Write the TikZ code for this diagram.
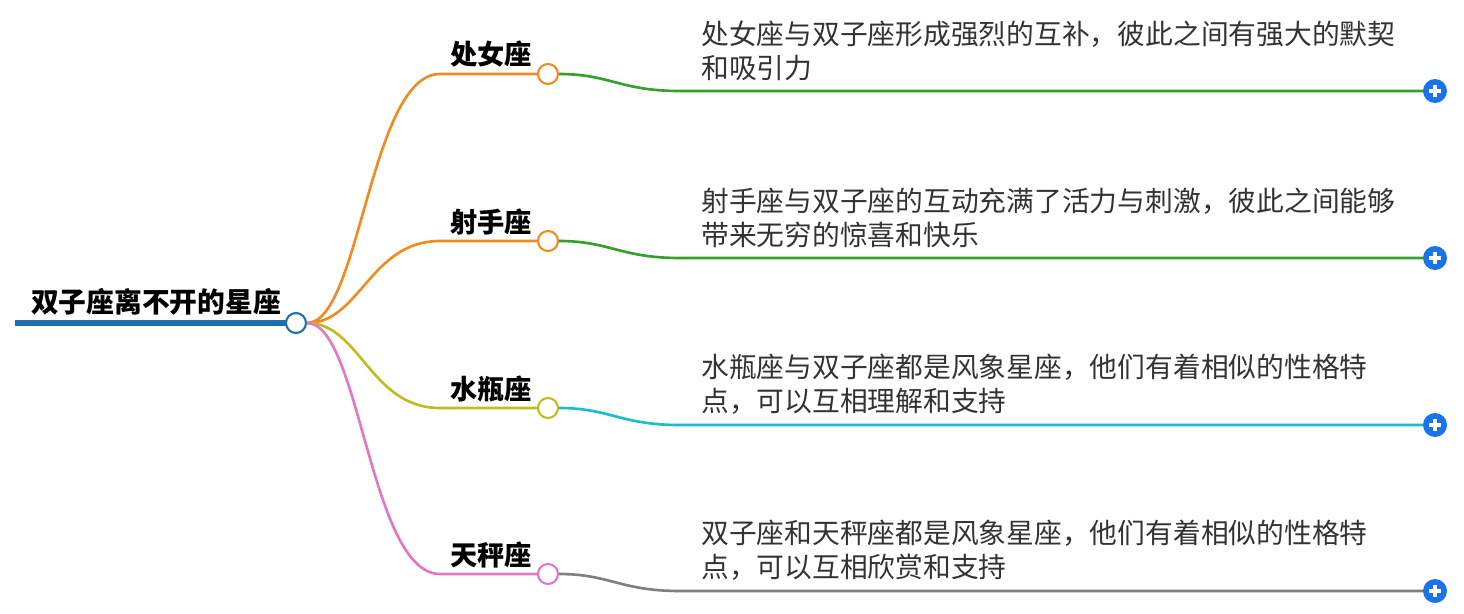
\documentclass[tikz,border=0pt]{standalone}
\usepackage{fontspec}
\setmainfont{Noto Sans CJK SC}
\usetikzlibrary{positioning}
\definecolor{cOrange}{HTML}{F28A1E}
\definecolor{cGreen}{HTML}{33A02C}
\definecolor{cOlive}{HTML}{BCBD22}
\definecolor{cCyan}{HTML}{17BECF}
\definecolor{cPink}{HTML}{E377C2}
\definecolor{cGray}{HTML}{7F7F7F}
\definecolor{cBlue}{HTML}{1F6FB0}
\definecolor{cPlus}{HTML}{1A73E8}
\begin{document}
\begin{tikzpicture}[x=0.02cm,y=-0.02cm,
        every path/.style={line width=1.5pt},
        topic/.style={font=\fontsize{15.5}{17}\selectfont\bfseries, inner sep=0pt, anchor=south},
        desc/.style={font=\fontsize{15.8}{19.5}\selectfont, align=left, anchor=south west, inner sep=0pt, text=black!80},
        knob/.style={circle, draw, fill=white, inner sep=0pt, line width=1.2pt},
        plus/.style={circle, fill=cPlus, minimum size=0.48cm, inner sep=0pt}
    ]
    \useasboundingbox (0,0) rectangle (1464,613);

    % Root
    \node (root) [font=\fontsize{15.8}{17}\selectfont\bfseries, anchor=south, inner sep=0pt] at (156,317) {双子座离不开的星座};
    \draw[cBlue, line width=3.5pt] (15,323) -- (286,323);
    \node (rk) [knob, draw=cBlue, minimum size=0.4cm] at (296,323) {};

    % Branches
    \foreach \name/\y/\col/\lcol/\txt/\desc in {
        a/74/cOrange/cGreen/处女座/{处女座与双子座形成强烈的互补，彼此之间有强大的默契\\和吸引力},
        b/241/cOrange/cGreen/射手座/{射手座与双子座的互动充满了活力与刺激，彼此之间能够\\带来无穷的惊喜和快乐},
        c/408/cOlive/cCyan/水瓶座/{水瓶座与双子座都是风象星座，他们有着相似的性格特\\点，可以互相理解和支持},
        d/574/cPink/cGray/天秤座/{双子座和天秤座都是风象星座，他们有着相似的性格特\\点，可以互相欣赏和支持}} {
        \node (\name) [topic] at (491,\y-5) {\txt};
        \node (\name k) [knob, draw=\col, minimum size=0.4cm] at (548,\y) {};
        \draw[\col] (rk.east) .. controls (360,323) and (370,\y) .. (440,\y) -- (\name k.west);
        \coordinate (\name e) at (1424,\y+17);
        \draw[\lcol] (\name k.east) .. controls (610,\y) and (620,\y+17) .. (680,\y+17) -- (\name e);
        \node (\name t) [desc] at (700,\y+8) {\desc};
        \node (\name p) [plus] at (1435,\y+17) {};
        \draw[white, line width=1.8pt] (\name p.center) ++(-6,0) -- ++(12,0) (\name p.center) ++(0,-6) -- ++(0,12);
    }
\end{tikzpicture}
\end{document}
